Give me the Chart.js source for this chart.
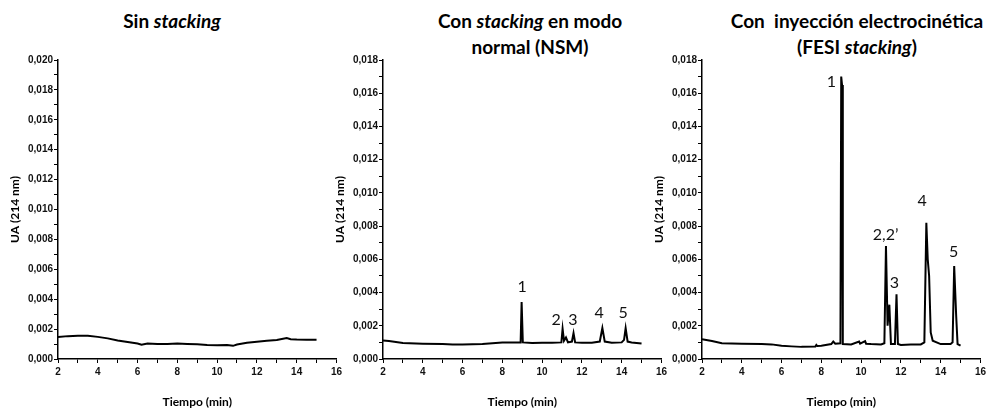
<!DOCTYPE html>
<html lang="es">
<head>
<meta charset="UTF-8">
<title>Electroferogramas</title>
<script src="https://cdn.jsdelivr.net/npm/chart.js"></script>
<style>
    body {
        margin: 0;
        background: #fff;
        font-family: Lato, "Open Sans", sans-serif;
    }
    .wrap {
        position: relative;
        width: 989px;
        height: 409px;
    }
    .panel {
        position: absolute;
        top: 0;
        width: 345px;
        height: 409px;
    }
    .titulo {
        position: absolute;
        top: 8px;
        transform: translateX(-50%);
        font-weight: bold;
        font-size: 19px;
        line-height: 26px;
        text-align: center;
        white-space: nowrap;
        color: #000;
    }
</style>
</head>
<body>
<div class="wrap">
    <div class="titulo" style="left:172px">Sin <i>stacking</i></div>
    <div class="titulo" style="left:530px">Con <i>stacking</i> en modo<br>normal (NSM)</div>
    <div class="titulo" style="left:857px">Con &nbsp;inyección electrocinética<br>(FESI <i>stacking</i>)</div>
    <div class="panel" style="left:0px"><canvas id="g1" width="345" height="409"></canvas></div>
    <div class="panel" style="left:325px"><canvas id="g2" width="345" height="409"></canvas></div>
    <div class="panel" style="left:644px"><canvas id="g3" width="345" height="409"></canvas></div>
</div>

<script>
// Sin stacking
const sinT  = [2.0, 2.5, 3.0, 3.5, 4.0, 4.5, 5.0, 5.5, 6.0, 6.2, 6.5, 7.0, 7.5, 8.0, 8.5, 9.0, 9.5, 10.0, 10.5, 10.8, 11.0, 11.5, 12.0, 12.5, 13.0, 13.5, 13.7, 14.0, 14.5, 15.0];
const sinUA = [0.00147, 0.00153, 0.00156, 0.00155, 0.00148, 0.00138, 0.00124, 0.00113, 0.00103, 0.00095, 0.00103, 0.00100, 0.00101, 0.00103, 0.00100, 0.00098, 0.00094, 0.00092, 0.00093, 0.00088, 0.00097, 0.00108, 0.00116, 0.00122, 0.00127, 0.00140, 0.00132, 0.00130, 0.00129, 0.00128];

// Con stacking en modo normal (NSM)
const nsmT  = [2.0, 2.3, 3.0, 4.0, 5.0, 5.5, 6.0, 7.0, 8.0, 8.5, 8.92, 8.97, 9.03, 9.5, 10.0, 10.5, 10.97, 11.03, 11.1, 11.2, 11.3, 11.5, 11.58, 11.66, 12.0, 12.5, 12.9, 13.03, 13.15, 13.5, 14.0, 14.12, 14.2, 14.3, 14.5, 15.0];
const nsmUA = [0.00111, 0.00108, 0.00096, 0.00092, 0.00090, 0.00087, 0.00088, 0.00090, 0.00099, 0.00100, 0.00100, 0.00343, 0.00100, 0.00097, 0.00098, 0.00098, 0.00100, 0.00182, 0.00110, 0.00130, 0.00100, 0.00105, 0.00156, 0.00100, 0.00098, 0.00098, 0.00105, 0.00186, 0.00105, 0.00098, 0.00100, 0.00115, 0.00186, 0.00105, 0.00100, 0.00093];
const nsmPicos  = ["1", "2", "3", "4", "5"];
const nsmPicoT  = [9.0, 10.7, 11.55, 12.87, 14.08];
const nsmPicoUA = [0.00433, 0.00235, 0.00235, 0.00277, 0.00277];

// Con inyección electrocinética (FESI stacking)
const fesiT  = [2.0, 2.5, 3.0, 4.0, 5.0, 5.5, 6.0, 6.5, 7.0, 7.7, 7.75, 7.8, 8.0, 8.5, 8.6, 8.7, 8.96, 9.0, 9.04, 9.08, 9.5, 9.9, 9.95, 10.2, 10.25, 10.5, 11.0, 11.17, 11.25, 11.33, 11.42, 11.5, 11.7, 11.78, 11.85, 12.0, 12.5, 13.0, 13.18, 13.28, 13.35, 13.42, 13.5, 13.6, 14.0, 14.5, 14.6, 14.68, 14.78, 14.85, 15.0];
const fesiUA = [0.00119, 0.00108, 0.00095, 0.00092, 0.00090, 0.00088, 0.00080, 0.00076, 0.00073, 0.00075, 0.00085, 0.00078, 0.00080, 0.00090, 0.00105, 0.00092, 0.00095, 0.01700, 0.01650, 0.00090, 0.00088, 0.00105, 0.00092, 0.00108, 0.00092, 0.00090, 0.00088, 0.00095, 0.00680, 0.00200, 0.00327, 0.00090, 0.00090, 0.00390, 0.00090, 0.00085, 0.00088, 0.00088, 0.00100, 0.00820, 0.00600, 0.00500, 0.00160, 0.00110, 0.00090, 0.00090, 0.00100, 0.00560, 0.00260, 0.00090, 0.00080];
const fesiPicos  = ["1", "2,2’", "3", "4", "5"];
const fesiPicoT  = [8.5, 11.23, 11.67, 13.07, 14.65];
const fesiPicoUA = [0.01668, 0.0075, 0.00456, 0.0095, 0.00644];

const ejeX = { min: 2, max: 16, paso: 1 };

const fuenteTicks = { family: "'Liberation Sans', Arial, sans-serif", size: 10, weight: "bold" };
const fuenteTitulo = { family: "Lato, sans-serif", size: 12, weight: "bold" };

// etiquetas de los picos, en coordenadas de datos
const etiquetasPicos = {
    id: "etiquetasPicos",
    afterDatasetsDraw(chart, args, opts) {
        if (!opts.textos) return;
        const ctx = chart.ctx;
        const { x, y } = chart.scales;
        ctx.save();
        ctx.font = "16px Lato, sans-serif";
        ctx.fillStyle = "#111";
        ctx.textAlign = "center";
        ctx.textBaseline = "middle";
        opts.textos.forEach((t, i) => {
            ctx.fillText(t, x.getPixelForValue(opts.t[i]), y.getPixelForValue(opts.ua[i]));
        });
        ctx.restore();
    }
};

function coma(v) {
    return v.toFixed(3).replace(".", ",");
}

function crearGrafico(id, tiempos, valores, maxY, picos) {
    const puntos = tiempos.map((t, i) => ({ x: t, y: valores[i] }));
    return new Chart(document.getElementById(id), {
        type: "line",
        data: {
            datasets: [{
                data: puntos,
                borderColor: "#000",
                borderWidth: 2,
                pointRadius: 0,
                tension: 0,
                fill: false
            }]
        },
        options: {
            responsive: false,
            animation: false,
            events: [],
            layout: { padding: { top: 60, right: 7, left: 0, bottom: 0 } },
            plugins: {
                legend: { display: false },
                tooltip: { enabled: false },
                etiquetasPicos: picos || {}
            },
            scales: {
                x: {
                    type: "linear",
                    min: ejeX.min,
                    max: ejeX.max,
                    ticks: {
                        stepSize: ejeX.paso,
                        autoSkip: false,
                        maxRotation: 0,
                        color: "#111",
                        font: fuenteTicks,
                        padding: 3,
                        callback: v => (v % 2 === 0 ? String(v) : "")
                    },
                    grid: { drawOnChartArea: false, drawTicks: true, tickLength: 4, color: "#000", lineWidth: 1 },
                    border: { display: true, color: "#000", width: 1.5 },
                    title: { display: true, text: "Tiempo (min)", color: "#000", font: fuenteTitulo, padding: { top: 2, bottom: 0 } },
                    afterFit: s => { s.height = 50; }
                },
                y: {
                    min: 0,
                    max: maxY,
                    ticks: {
                        stepSize: 0.001,
                        autoSkip: false,
                        color: "#111",
                        font: fuenteTicks,
                        padding: 1,
                        callback: v => (Math.round(v * 1000) % 2 === 0 ? coma(v) : "")
                    },
                    grid: { drawOnChartArea: false, drawTicks: true, tickLength: 4, color: "#000", lineWidth: 1 },
                    border: { display: true, color: "#000", width: 1.5 },
                    title: { display: true, text: "UA (214 nm)", color: "#000", font: fuenteTitulo, padding: { top: 8, bottom: 0 } },
                    afterFit: s => { s.width = 58; }
                }
            }
        },
        plugins: [etiquetasPicos]
    });
}

crearGrafico("g1", sinT, sinUA, 0.020);
crearGrafico("g2", nsmT, nsmUA, 0.018, { textos: nsmPicos, t: nsmPicoT, ua: nsmPicoUA });
crearGrafico("g3", fesiT, fesiUA, 0.018, { textos: fesiPicos, t: fesiPicoT, ua: fesiPicoUA });
</script>
</body>
</html>
